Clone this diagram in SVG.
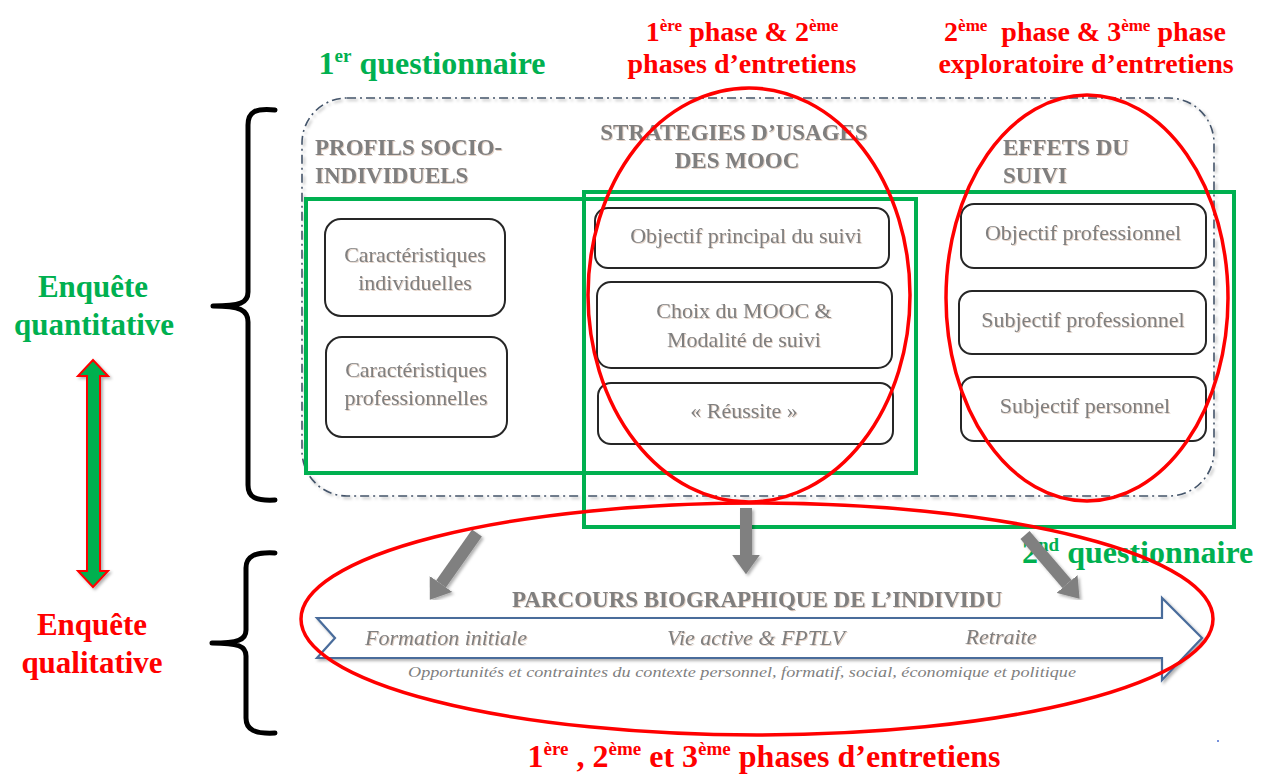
<svg xmlns="http://www.w3.org/2000/svg" width="1271" height="776" viewBox="0 0 1271 776">
<defs>
<style>
.head{font-family:"Liberation Serif","Times New Roman",serif;font-weight:bold;font-size:28px}
.red{fill:#ff0000}
.green{fill:#00b050}
.sec{font-family:"Liberation Serif","Times New Roman",serif;font-weight:bold;font-size:23px;fill:#7f7f7f}
.box rect{fill:#ffffff;stroke:#262626;stroke-width:2}
.box text{font-family:"Liberation Serif","Times New Roman",serif;font-size:22px;fill:#7f7f7f;text-anchor:middle}
.ital{font-family:"Liberation Serif","Times New Roman",serif;font-style:italic;fill:#7f7f7f}
.gframe{fill:none;stroke:#00b050;stroke-width:4}
.rell{fill:none;stroke:#ff0000;stroke-width:3.5}
.brace{fill:none;stroke:#000000;stroke-width:5;stroke-linecap:round;stroke-linejoin:round}
.garrow{stroke:#808080;stroke-width:12;fill:none;marker-end:url(#gh)}
</style>
<marker id="gh" viewBox="0 0 10 10" refX="0" refY="5" markerWidth="2.3" markerHeight="2.3" orient="auto" markerUnits="strokeWidth">
<path d="M0,0 L7,5 L0,10 z" fill="#808080"/>
</marker>
<filter id="sh" x="-20%" y="-20%" width="140%" height="140%">
<feDropShadow dx="2" dy="2" stdDeviation="1.5" flood-color="#000" flood-opacity="0.3"/>
</filter>
<filter id="tsh" x="-5%" y="-20%" width="110%" height="140%">
<feDropShadow dx="1" dy="1" stdDeviation="0.6" flood-color="#b08060" flood-opacity="0.35"/>
</filter>
</defs>
<rect width="1271" height="776" fill="#ffffff"/>

<!-- headings -->
<g id="heading-q1">
<text class="head green" x="432" y="74" text-anchor="middle" style="font-size:32px">1<tspan font-size="19" dy="-12">er</tspan><tspan dy="12"> questionnaire</tspan></text>
</g>
<g id="heading-phase12">
<text class="head red" x="742" y="41" text-anchor="middle">1<tspan font-size="17" dy="-10">ère</tspan><tspan dy="10"> phase &amp; 2</tspan><tspan font-size="17" dy="-10">ème</tspan></text>
<text class="head red" x="742" y="73" text-anchor="middle">phases d’entretiens</text>
</g>
<g id="heading-phase23">
<text class="head red" x="1085" y="41" text-anchor="middle" xml:space="preserve">2<tspan font-size="17" dy="-10">ème</tspan><tspan dy="10">  phase &amp; 3</tspan><tspan font-size="17" dy="-10">ème</tspan><tspan dy="10"> phase</tspan></text>
<text class="head red" x="1086" y="73" text-anchor="middle">exploratoire d’entretiens</text>
</g>

<!-- left side -->
<g id="enquete-quanti">
<text class="head green" x="93" y="297" text-anchor="middle" style="font-size:31px">Enquête</text>
<text class="head green" x="94" y="335" text-anchor="middle" style="font-size:31px">quantitative</text>
</g>
<g id="enquete-quali">
<text class="head red" x="92" y="635" text-anchor="middle" style="font-size:31px">Enquête</text>
<text class="head red" x="92" y="673" text-anchor="middle" style="font-size:31px">qualitative</text>
</g>
<g id="double-arrow" filter="url(#sh)">
<polygon points="93,360 108,376 100,376 100,571 108,571 93,587 78,571 87,571 87,376 78,376" fill="#00b050" stroke="#ff0000" stroke-width="2"/>
</g>
<g id="braces">
<path class="brace" d="M275,110 C255,108 248,112 248,125 L248,292 C248,303 240,306 213,306 C240,306 248,310 248,322 L248,485 C248,497 255,501 275,500"/>
<path class="brace" d="M275,553 C255,552 246,556 246,568 L246,630 C246,640 238,643 212,643 C238,643 246,646 246,656 L246,718 C246,730 255,734 275,733"/>
</g>

<!-- main container -->
<g id="container">
<rect x="302" y="98" width="912" height="398" rx="45" ry="45" fill="none" stroke="#44546a" stroke-width="1.6" stroke-dasharray="9 4 2 4" filter="url(#sh)"/>
</g>

<g id="section-titles" filter="url(#tsh)">
<text class="sec" x="315" y="155">PROFILS SOCIO-</text>
<text class="sec" x="315" y="183">INDIVIDUELS</text>
<text class="sec" x="734" y="140" text-anchor="middle">STRATEGIES D’USAGES</text>
<text class="sec" x="737" y="168" text-anchor="middle">DES MOOC</text>
<text class="sec" x="1003" y="155">EFFETS DU</text>
<text class="sec" x="1003" y="183">SUIVI</text>
</g>

<g id="box-carac-indiv" class="box">
<rect x="325" y="219" width="180" height="97" rx="16"/>
<text x="415" y="262" filter="url(#tsh)">Caractéristiques</text>
<text x="415" y="290" filter="url(#tsh)">individuelles</text>
</g>
<g id="box-carac-prof" class="box">
<rect x="326" y="337" width="181" height="100" rx="16"/>
<text x="416" y="377" filter="url(#tsh)">Caractéristiques</text>
<text x="416" y="405" filter="url(#tsh)">professionnelles</text>
</g>
<g id="box-objectif-principal" class="box">
<rect x="595" y="208" width="294" height="60" rx="13"/>
<text x="746" y="243" filter="url(#tsh)">Objectif principal du suivi</text>
</g>
<g id="box-choix" class="box">
<rect x="597" y="282" width="295" height="86" rx="14"/>
<text x="744" y="318" filter="url(#tsh)">Choix du MOOC &amp;</text>
<text x="744" y="347" filter="url(#tsh)">Modalité de suivi</text>
</g>
<g id="box-reussite" class="box">
<rect x="598" y="383" width="295" height="61" rx="13"/>
<text x="744" y="418" filter="url(#tsh)">« Réussite »</text>
</g>
<g id="box-obj-pro" class="box">
<rect x="961" y="204" width="245" height="64" rx="13"/>
<text x="1083" y="240" filter="url(#tsh)">Objectif professionnel</text>
</g>
<g id="box-subj-pro" class="box">
<rect x="959" y="291" width="247" height="63" rx="13"/>
<text x="1083" y="327" filter="url(#tsh)">Subjectif professionnel</text>
</g>
<g id="box-subj-perso" class="box">
<rect x="961" y="377" width="245" height="64" rx="13"/>
<text x="1085" y="413" filter="url(#tsh)">Subjectif personnel</text>
</g>

<!-- green questionnaire frames -->
<g id="frame-q1">
<rect class="gframe" x="306" y="199" width="610" height="274"/>
</g>
<g id="frame-q2">
<rect class="gframe" x="584" y="192" width="650" height="335"/>
<text class="head green" x="1022" y="563" xml:space="preserve" style="font-size:32px">2<tspan font-size="19" dy="-12">nd</tspan><tspan dy="12"> questionnaire</tspan></text>
</g>

<!-- biographical arrow -->
<g id="parcours">
<polygon points="317,618 1162,618 1162,598 1202,638 1162,680 1162,658 317,658 335,638" fill="#ffffff" stroke="#4a6c9b" stroke-width="2.2" filter="url(#sh)"/>
<text class="sec" x="757" y="607" text-anchor="middle" filter="url(#tsh)">PARCOURS BIOGRAPHIQUE DE L’INDIVIDU</text>
<text class="ital" x="446" y="645" font-size="22" text-anchor="middle" filter="url(#tsh)">Formation initiale</text>
<text class="ital" x="756" y="645" font-size="22" text-anchor="middle" filter="url(#tsh)">Vie active &amp; FPTLV</text>
<text class="ital" x="1001" y="644" font-size="22" text-anchor="middle" filter="url(#tsh)">Retraite</text>
<text class="ital" x="408" y="677" font-size="15" textLength="668" lengthAdjust="spacingAndGlyphs">Opportunités et contraintes du contexte personnel, formatif, social, économique et politique</text>
</g>

<!-- connectors -->
<g id="connectors" filter="url(#sh)">
<line class="garrow" x1="477" y1="533" x2="441" y2="584"/>
<line class="garrow" x1="746" y1="508" x2="746" y2="555"/>
<line class="garrow" x1="1025" y1="535" x2="1067" y2="584"/>
</g>

<!-- red interview ellipses -->
<g id="ellipse-strategies">
<ellipse class="rell" cx="749" cy="295" rx="161" ry="207"/>
</g>
<g id="ellipse-effets">
<ellipse class="rell" cx="1087" cy="298" rx="141" ry="203"/>
</g>
<g id="ellipse-parcours">
<ellipse class="rell" cx="757" cy="619" rx="456" ry="116"/>
<text class="head red" x="764" y="767" text-anchor="middle" style="font-size:32px">1<tspan font-size="19" dy="-12">ère</tspan><tspan dy="12"> , 2</tspan><tspan font-size="19" dy="-12">ème</tspan><tspan dy="12"> et 3</tspan><tspan font-size="19" dy="-12">ème</tspan><tspan dy="12"> phases d’entretiens</tspan></text>
</g>
<circle cx="1218" cy="741" r="1" fill="#4a6cd0"/>
</svg>
